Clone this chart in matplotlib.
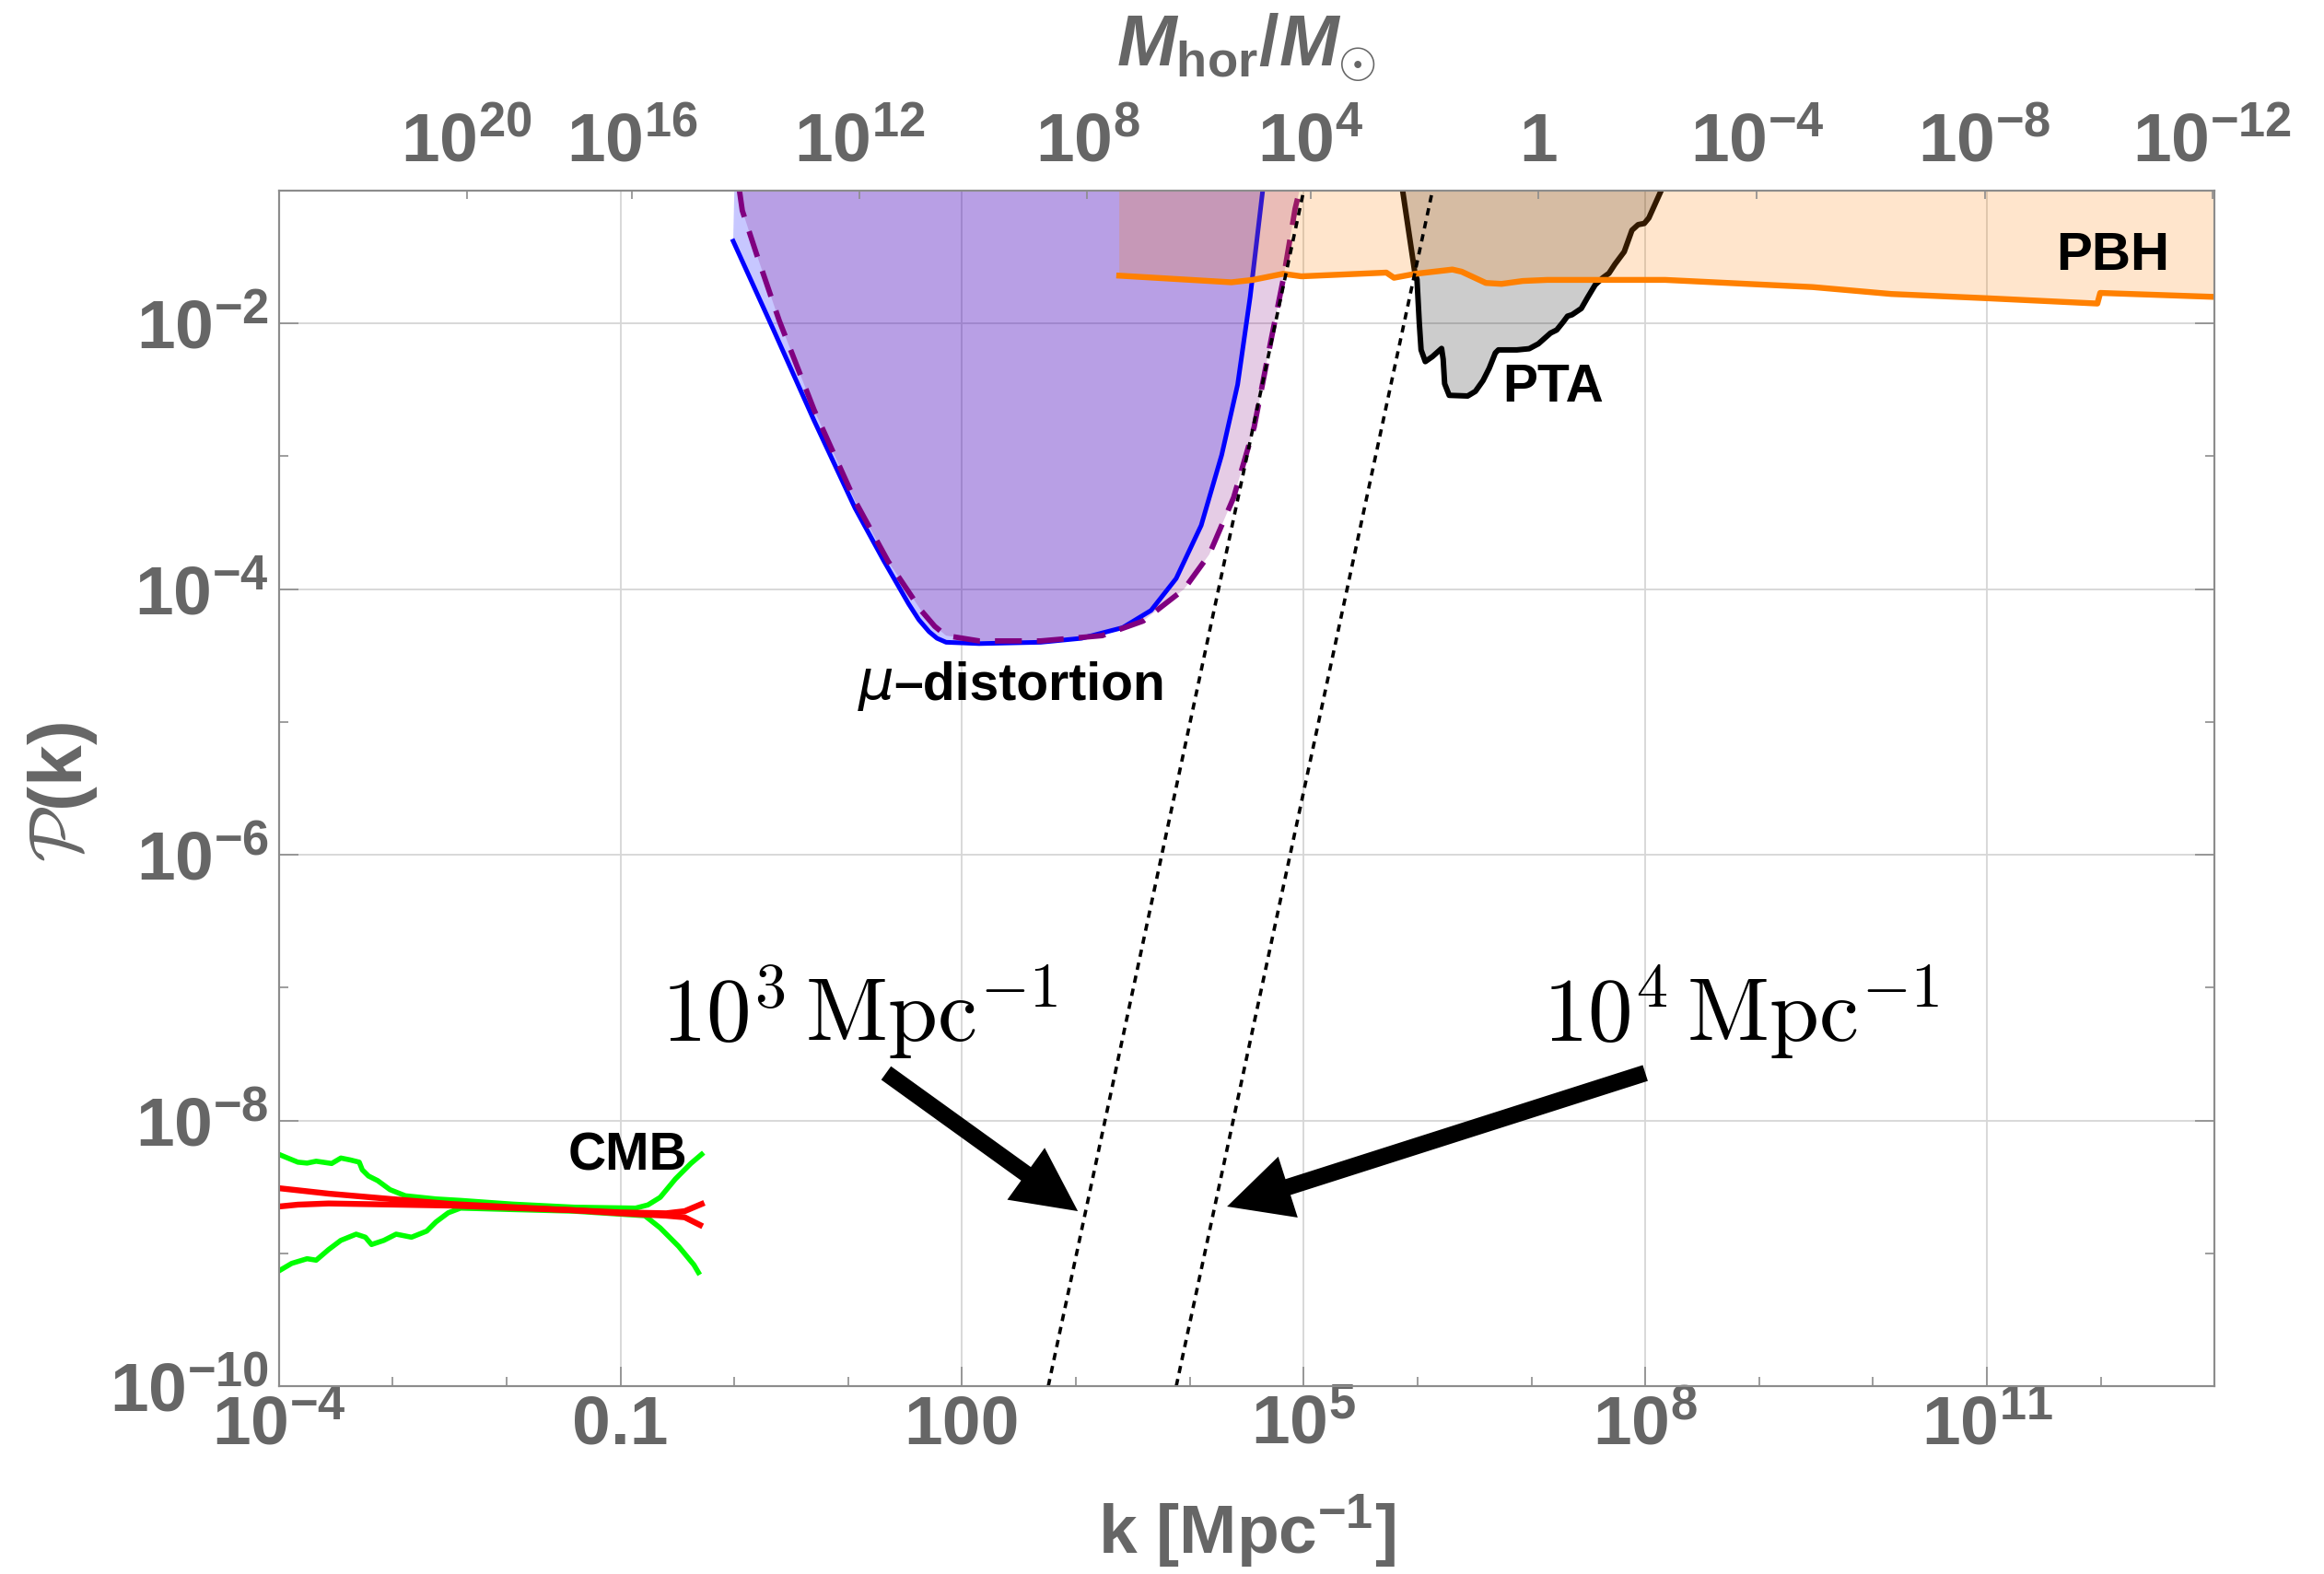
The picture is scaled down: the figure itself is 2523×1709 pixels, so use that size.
import numpy as np
import matplotlib
matplotlib.use("Agg")
import matplotlib.pyplot as plt
from matplotlib.ticker import NullFormatter, NullLocator

# values, kept as log10(k [Mpc^-1]) and log10(P)

# mu-distortion, solid blue bound (first point only closes the fill at the top)
mu_blue_logk = [0.0, -0.01, 0.34, 0.70, 1.06, 1.315, 1.53, 1.62, 1.71, 1.78, 1.86, 2.15, 2.69,
                3.05, 3.41, 3.66, 3.88, 4.10, 4.28, 4.42, 4.53, 4.64]
mu_blue_logP = [-1.0, -1.38, -2.04, -2.73, -3.39, -3.79, -4.11, -4.23, -4.32, -4.37, -4.40, -4.41, -4.40,
                -4.37, -4.29, -4.16, -3.92, -3.52, -2.99, -2.46, -1.80, -1.0]

# mu-distortion, dashed purple bound
mu_dash_logk = [0.045, 0.07, 0.196, 0.395, 0.70, 1.063, 1.35, 1.64, 1.76, 1.86, 2.15, 2.69, 3.23,
                3.59, 3.95, 4.17, 4.385, 4.565, 4.71, 4.82, 4.925, 4.963]
mu_dash_logP = [-1.0, -1.15, -1.48, -1.98, -2.65, -3.34, -3.79, -4.16, -4.28, -4.35, -4.39, -4.39, -4.35,
                -4.24, -4.0, -3.74, -3.31, -2.78, -2.14, -1.67, -1.135, -1.0]

# PBH bound
pbh_logk = [3.38, 4.365, 4.553, 4.82, 4.98, 5.726, 5.793, 5.982, 6.306, 6.387, 6.60, 6.737,
            6.925, 7.14, 8.174, 9.47, 10.16, 11.0, 11.97, 11.995, 13.0]
pbh_logP = [-1.64, -1.69, -1.672, -1.626, -1.645, -1.617, -1.656, -1.626, -1.594, -1.61, -1.695, -1.702,
            -1.68, -1.672, -1.672, -1.726, -1.778, -1.81, -1.85, -1.77, -1.80]

# PTA bound
pta_logk = [5.869, 5.977, 5.995, 6.015, 6.031, 6.068, 6.130, 6.211, 6.225, 6.238, 6.278, 6.440,
            6.508, 6.575, 6.629, 6.683, 6.710, 6.872, 6.980, 7.061, 7.168, 7.222, 7.277, 7.317,
            7.357, 7.438, 7.492, 7.560, 7.627, 7.681, 7.734, 7.815, 7.883, 7.937, 7.991, 8.031, 8.139]
pta_logP = [-1.0, -1.622, -1.668, -1.991, -2.199, -2.287, -2.250, -2.188, -2.269, -2.454, -2.541, -2.546,
            -2.511, -2.430, -2.338, -2.222, -2.199, -2.199, -2.190, -2.153, -2.072, -2.049, -1.991, -1.945,
            -1.934, -1.887, -1.806, -1.709, -1.656, -1.622, -1.553, -1.460, -1.298, -1.256, -1.247, -1.206, -1.0]

# CMB: green envelope and red curves
cmb_up_logk = [-4.0, -3.933, -3.833, -3.752, -3.672, -3.536, -3.455, -3.374, -3.294, -3.267, -3.213,
               -3.132, -3.024, -2.889, -2.620, -2.404, -1.945, -1.407, -0.867, -0.759, -0.651, -0.517,
               -0.382, -0.287]
cmb_up_logP = [-8.255, -8.279, -8.314, -8.321, -8.307, -8.324, -8.283, -8.297, -8.314, -8.372, -8.418,
               -8.453, -8.521, -8.567, -8.591, -8.602, -8.630, -8.653, -8.660, -8.636, -8.579, -8.440,
               -8.324, -8.255]
cmb_lo_logk = [-4.0, -3.887, -3.752, -3.672, -3.563, -3.456, -3.321, -3.240, -3.186, -3.078, -2.970,
               -2.835, -2.701, -2.620, -2.512, -2.404, -1.945, -1.407, -0.786, -0.651, -0.489, -0.355,
               -0.315]
cmb_lo_logP = [-9.133, -9.076, -9.041, -9.052, -8.972, -8.903, -8.856, -8.879, -8.934, -8.903, -8.856,
               -8.879, -8.833, -8.764, -8.695, -8.660, -8.671, -8.683, -8.717, -8.809, -8.948, -9.087,
               -9.145]
red_a_logk = [-4.0, -3.563, -3.024, -2.485, -1.945, -1.407, -1.002, -0.598, -0.436, -0.301]
red_a_logP = [-8.510, -8.551, -8.591, -8.629, -8.653, -8.676, -8.699, -8.717, -8.729, -8.787]
red_b_logk = [-4.0, -3.833, -3.563, -3.294, -2.485, -1.407, -1.002, -0.598, -0.436, -0.287]
red_b_logP = [-8.648, -8.634, -8.625, -8.629, -8.641, -8.676, -8.692, -8.699, -8.683, -8.629]

# k^4 guide lines (end points)
guide1_logk = [2.757, 5.0]
guide2_logk = [3.881, 6.131]
guide_logP = [-10.0, -1.0]

# axes ticks
bottom_exp = [-4, -1, 2, 5, 8, 11]
bottom_labels = [r'$10^{-4}$', '0.1', '100', r'$10^{5}$', r'$10^{8}$', r'$10^{11}$']
left_exp = [-10, -8, -6, -4, -2]
left_labels = [r'$10^{-10}$', r'$10^{-8}$', r'$10^{-6}$', r'$10^{-4}$', r'$10^{-2}$']
top_logk = [-2.35, -0.90, 1.10, 3.10, 5.06, 7.06, 8.98, 10.98, 12.98]
top_labels = [r'$10^{20}$', r'$10^{16}$', r'$10^{12}$', r'$10^{8}$', r'$10^{4}$', '1',
              r'$10^{-4}$', r'$10^{-8}$', r'$10^{-12}$']


def p10(v):
    return 10.0 ** np.asarray(v)


plt.rcParams['font.family'] = ['Liberation Sans', 'DejaVu Sans']
plt.rcParams['font.weight'] = 'bold'
plt.rcParams['mathtext.fontset'] = 'custom'
plt.rcParams['mathtext.rm'] = 'Liberation Sans:bold'
plt.rcParams['mathtext.it'] = 'Liberation Sans:italic:bold'
plt.rcParams['mathtext.bf'] = 'Liberation Sans:bold'
plt.rcParams['mathtext.sf'] = 'Liberation Sans:bold'

gray = '#666666'
frame = '#8c8c8c'

fig = plt.figure(figsize=(25.23, 17.09), dpi=100)
ax = fig.add_axes([0.11998, 0.11937, 0.83297, 0.75951])
ax.set_xscale('log')
ax.set_yscale('log')
ax.set_xlim(1e-4, 1e13)
ax.set_ylim(1e-10, 1e-1)

# grid behind everything
ax.set_axisbelow(True)
ax.grid(True, which='major', color='#d6d6d6', lw=1.3)

# mu-distortion fills and bounds
top = -0.5
ax.fill(p10(mu_blue_logk + [mu_blue_logk[-1], mu_blue_logk[0]]),
        p10(mu_blue_logP + [top, top]), color='blue', alpha=0.22, lw=0, zorder=2)
ax.fill(p10(mu_dash_logk + [mu_dash_logk[-1], mu_dash_logk[0]]),
        p10(mu_dash_logP + [top, top]), color='purple', alpha=0.2, lw=0, zorder=2)
ax.plot(p10(mu_blue_logk[1:]), p10(mu_blue_logP[1:]), color='blue', lw=3.6, zorder=3,
        solid_joinstyle='round')
ax.plot(p10(mu_dash_logk), p10(mu_dash_logP), color='purple', lw=4.2,
        linestyle=(0, (5.0, 2.8)), zorder=3)

# PTA
ax.fill(p10(pta_logk), p10(pta_logP), color='black', alpha=0.2, lw=0, zorder=4)
ax.plot(p10(pta_logk), p10(pta_logP), color='black', lw=4.3, zorder=4)

# PBH
ax.fill(p10(pbh_logk + [pbh_logk[-1], pbh_logk[0]]), p10(pbh_logP + [top, top]),
        color='#ff8000', alpha=0.2, lw=0, zorder=5)
ax.plot(p10(pbh_logk), p10(pbh_logP), color='#ff8000', lw=4.6, zorder=6)

# k^4 guides
for gk in (guide1_logk, guide2_logk):
    ax.plot(p10(gk), p10(guide_logP), color='black', lw=2.6, linestyle=(0, (2.2, 1.8)), zorder=7)

# CMB
ax.plot(p10(cmb_up_logk), p10(cmb_up_logP), color='#00ff00', lw=4.0, zorder=8)
ax.plot(p10(cmb_lo_logk), p10(cmb_lo_logP), color='#00ff00', lw=4.0, zorder=8)
ax.plot(p10(red_a_logk), p10(red_a_logP), color='#ff0000', lw=4.6, zorder=9)
ax.plot(p10(red_b_logk), p10(red_b_logP), color='#ff0000', lw=4.6, zorder=9)

# region labels
ax.text(p10(12.108), p10(-1.492), 'PBH', fontsize=42, color='black', ha='center', va='center', zorder=10)
ax.text(p10(-0.939), p10(-8.267), 'CMB', fontsize=41, color='black', ha='center', va='center', zorder=10)
ax.text(p10(7.19), p10(-2.483), 'PTA', fontsize=41, color='black', ha='center', va='center', zorder=10)
ax.text(p10(1.40), p10(-4.83), 'μ', fontsize=44, color='black', fontweight='normal',
        fontstyle='italic', family='DejaVu Sans', ha='right', va='baseline', zorder=10)
ax.text(p10(1.40), p10(-4.83), '–distortion', fontsize=41, color='black',
        ha='left', va='baseline', zorder=10)

# guide annotations
ax.text(p10(1.10), p10(-7.41), r'$10^3\,\mathrm{Mpc}^{-1}$', fontsize=70, color='black',
        ha='center', va='baseline', math_fontfamily='cm', zorder=10)
ax.text(p10(8.84), p10(-7.41), r'$10^4\,\mathrm{Mpc}^{-1}$', fontsize=70, color='black',
        ha='center', va='baseline', math_fontfamily='cm', zorder=10)
arrow = dict(arrowstyle='simple,head_length=5.0,head_width=5.0,tail_width=1.3',
             color='black', lw=0, shrinkA=0, shrinkB=0, mutation_scale=10)
ax.annotate('', xy=(p10(3.017), p10(-8.683)), xytext=(p10(1.333), p10(-7.643)),
            arrowprops=arrow, zorder=11)
ax.annotate('', xy=(p10(4.327), p10(-8.648)), xytext=(p10(8.0), p10(-7.643)),
            arrowprops=arrow, zorder=11)

# bottom / left ticks
ax.set_xticks(p10(bottom_exp), labels=bottom_labels)
ax.set_xticks(p10([e for e in range(-4, 14) if e not in bottom_exp]), minor=True)
ax.xaxis.set_minor_formatter(NullFormatter())
ax.set_yticks(p10(left_exp), labels=left_labels)
ax.set_yticks(p10([-9, -7, -5, -3]), minor=True)
ax.yaxis.set_minor_formatter(NullFormatter())
ax.tick_params(which='both', direction='in', color=frame, top=False, right=True,
               labelsize=54, labelcolor=gray)
ax.tick_params(which='major', length=15, width=1.2)
ax.tick_params(which='minor', length=7, width=1.2)
ax.tick_params(axis='x', pad=6)
ax.tick_params(axis='y', pad=8)
for s in ax.spines.values():
    s.set_color(frame)
    s.set_linewidth(1.5)

# top axis: horizon mass
ax2 = ax.twiny()
ax2.set_xscale('log')
ax2.set_xlim(1e-4, 1e13)
ax2.set_xticks(p10(top_logk), labels=top_labels)
ax2.xaxis.set_minor_locator(NullLocator())
ax2.tick_params(direction='in', length=6.5, width=1.2, color=frame,
                labelsize=54, labelcolor=gray, pad=12)
for s in ax2.spines.values():
    s.set_color(frame)
    s.set_linewidth(1.5)

# axis titles
fig.text(1353 / 2523, 1 - 52 / 1709, r'$M_{\mathrm{hor}}/M_{\odot}$', fontsize=56, color=gray,
         ha='center', va='center')
fig.text(1353 / 2523, 1 - 1663 / 1709, r'k [Mpc$^{-1}$]', fontsize=54, color=gray,
         ha='center', va='center')
fig.text(68 / 2523, 1 - 860 / 1709, r'$\mathcal{P}$(k)', fontsize=58, color=gray,
         ha='center', va='center', rotation=90, math_fontfamily='cm')

fig.savefig('out.png', dpi=100)
